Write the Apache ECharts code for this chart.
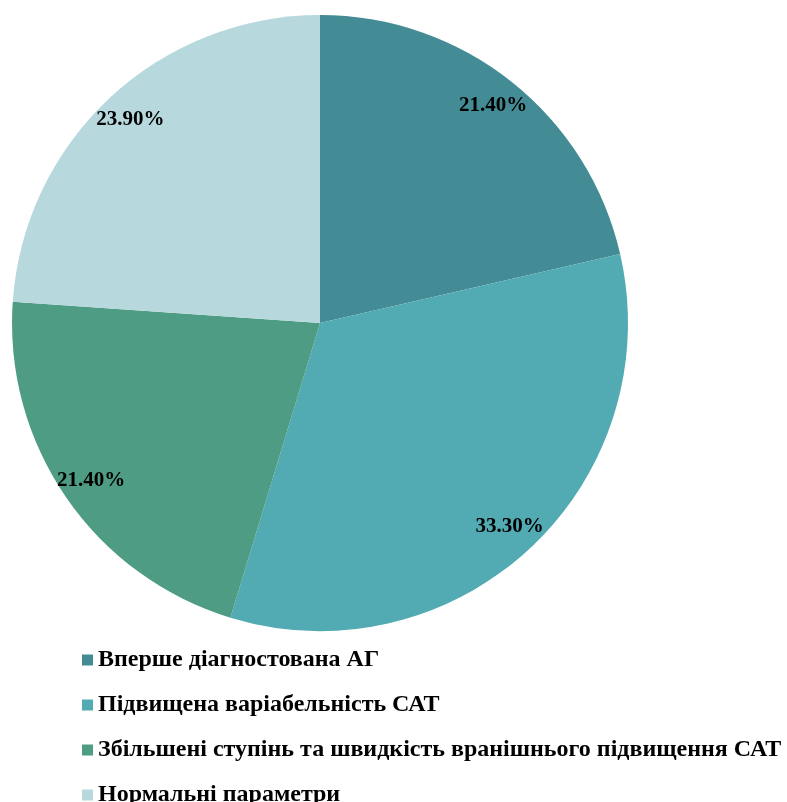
<!DOCTYPE html>
<html>
<head>
<meta charset="utf-8">
<script src="https://cdn.jsdelivr.net/npm/echarts@6/dist/echarts.min.js"></script>
<style>
  html, body { margin: 0; padding: 0; background: #fff; }
  #chart { width: 787px; height: 802px; }
</style>
</head>
<body>
<div id="chart"></div>
<script>
const categories = [
  'Вперше діагностована АГ',
  'Підвищена варіабельність САТ',
  'Збільшені ступінь та швидкість вранішнього підвищення САТ',
  'Нормальні параметри'
];
const values = [21.4, 33.3, 21.4, 23.9];
const colors = ['#438C95', '#52AAB3', '#4E9C83', '#B7D9DE'];

const chart = echarts.init(document.getElementById('chart'));
const fontFamily = '"Liberation Serif", "Times New Roman", serif';

const pieData = categories.map((name, i) => ({ name, value: values[i] }));

chart.setOption({
  color: colors,
  animation: false,
  legend: {
    orient: 'vertical',
    left: 77,
    top: 643,
    height: 220,
    itemWidth: 11,
    itemHeight: 11,
    itemGap: 21,
    icon: 'rect',
    textStyle: {
      fontFamily: fontFamily,
      fontWeight: 'bold',
      fontSize: 24,
      color: '#000'
    },
    data: categories
  },
  series: [
    {
      type: 'pie',
      center: [320, 323],
      radius: [0, 308],
      startAngle: 90,
      clockwise: true,
      label: { show: false },
      labelLine: { show: false },
      emphasis: { disabled: true },
      data: pieData
    },
    {
      // label ring: transparent, places percent labels near the outer edge
      type: 'pie',
      center: [320, 323],
      radius: [242, 308],
      startAngle: 90,
      clockwise: true,
      silent: true,
      itemStyle: { color: 'rgba(0,0,0,0)' },
      label: {
        show: true,
        position: 'inside',
        formatter: p => p.value.toFixed(2) + '%',
        fontFamily: fontFamily,
        fontWeight: 'bold',
        fontSize: 21,
        color: '#000'
      },
      labelLine: { show: false },
      emphasis: { disabled: true },
      data: pieData
    }
  ]
});
</script>
</body>
</html>
